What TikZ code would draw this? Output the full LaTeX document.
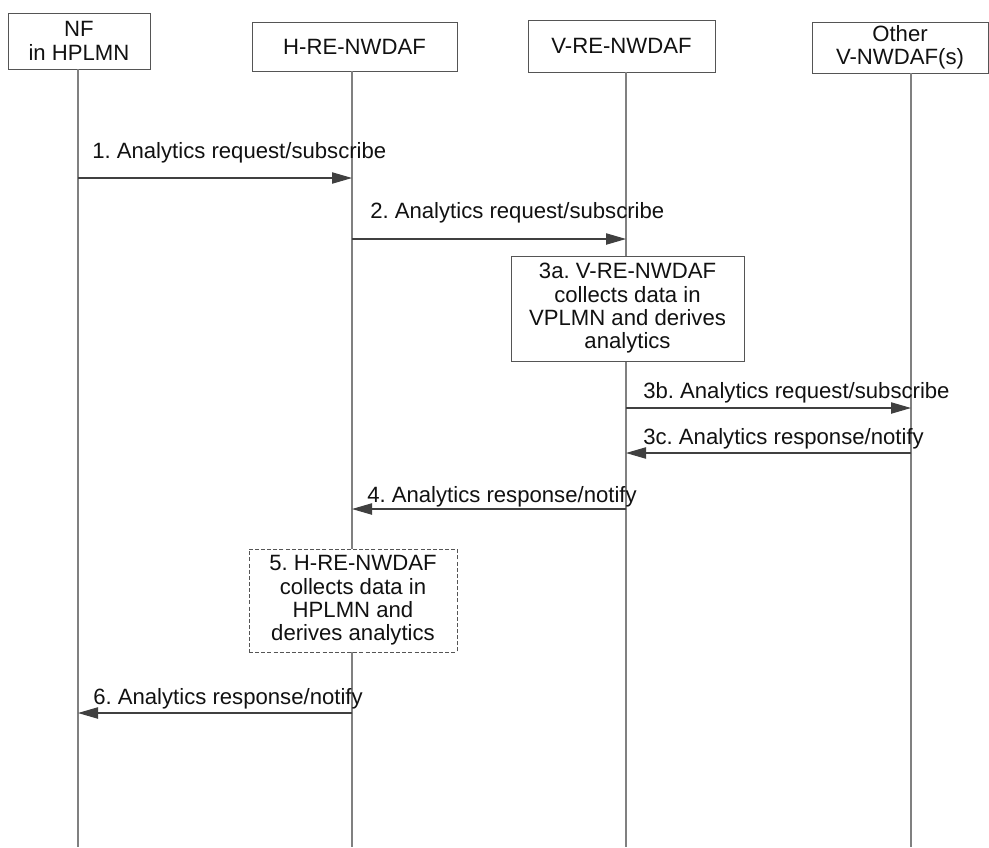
\documentclass[tikz,border=0pt]{standalone}
\usepackage{fontspec}
\setmainfont{Liberation Sans}
\usetikzlibrary{arrows.meta}
\definecolor{lifegray}{HTML}{808080}
\definecolor{boxgray}{HTML}{555555}
\definecolor{arrgray}{HTML}{404040}
\definecolor{txt}{HTML}{111111}
\begin{document}
\frenchspacing
\begin{tikzpicture}[x=0.75pt,y=-0.75pt,
  every node/.style={text=txt, font=\fontsize{16.6}{17.5}\selectfont},
  hdr/.style={draw=boxgray, line width=0.7pt, fill=white, inner sep=0pt, align=center},
  stepbox/.style={draw=boxgray, line width=0.7pt, fill=white, inner sep=0pt, align=center},
  dashbox/.style={stepbox, dash pattern=on 3pt off 1.6pt},
  life/.style={draw=lifegray, line width=0.8pt},
  msg/.style={draw=arrgray, line width=0.8pt, -{Triangle[length=15pt, width=8.5pt]}},
  lbl/.style={anchor=base west, inner sep=0pt}]
\useasboundingbox (0,0) rectangle (989,847);

% headers
\node[hdr, minimum width=142*0.75pt, minimum height=56*0.75pt] (nf) at (79,41) {NF\\in HPLMN};
\node[hdr, minimum width=205*0.75pt, minimum height=49*0.75pt] (h) at (354.5,46.5) {H-RE-NWDAF};
\node[hdr, minimum width=187*0.75pt, minimum height=52*0.75pt] (v) at (621.5,46) {V-RE-NWDAF};
\node[hdr, minimum width=176*0.75pt, minimum height=51*0.75pt] (o) at (900,47.5) {Other\\V-NWDAF(s)};

% lifeline x positions
\coordinate (nfl) at (78,847);
\coordinate (hl) at (352,847);
\coordinate (vl) at (626,847);
\coordinate (ol) at (911,847);

\draw[life] (nfl |- nf.south) -- (nfl);
\draw[life] (hl |- h.south) -- (hl);
\draw[life] (vl |- v.south) -- (vl);
\draw[life] (ol |- o.south) -- (ol);

% step boxes
\node[stepbox, minimum width=233*0.75pt, minimum height=105*0.75pt] (s3a) at (627.5,308.5)
  {3a. V-RE-NWDAF\\collects data in\\VPLMN and derives\\analytics};
\node[dashbox, minimum width=208*0.75pt, minimum height=103*0.75pt] (s5) at (353,600.5)
  {5. H-RE-NWDAF\\collects data in\\HPLMN and\\derives analytics};

% message endpoints
\coordinate (m1a) at (78,178);  \coordinate (m1b) at (352,178);
\coordinate (m2a) at (352,239); \coordinate (m2b) at (626,239);
\coordinate (m3ba) at (626,408); \coordinate (m3bb) at (911,408);
\coordinate (m3ca) at (911,453); \coordinate (m3cb) at (626,453);
\coordinate (m4a) at (626,509); \coordinate (m4b) at (352,509);
\coordinate (m6a) at (352,713); \coordinate (m6b) at (78,713);

\draw[msg] (m1a) -- (m1b);
\draw[msg] (m2a) -- (m2b);
\draw[msg] (m3ba) -- (m3bb);
\draw[msg] (m3ca) -- (m3cb);
\draw[msg] (m4a) -- (m4b);
\draw[msg] (m6a) -- (m6b);

% labels
\node[lbl] (l1) at (92,158) {1. Analytics request/subscribe};
\node[lbl] (l2) at (370,218) {2. Analytics request/subscribe};
\node[lbl] (l3b) at (643,398) {3b. Analytics request/subscribe};
\node[lbl] (l3c) at (643,444) {3c. Analytics response/notify};
\node[lbl] (l4) at (367,502) {4. Analytics response/notify};
\node[lbl] (l6) at (93,704) {6. Analytics response/notify};
\end{tikzpicture}
\end{document}
